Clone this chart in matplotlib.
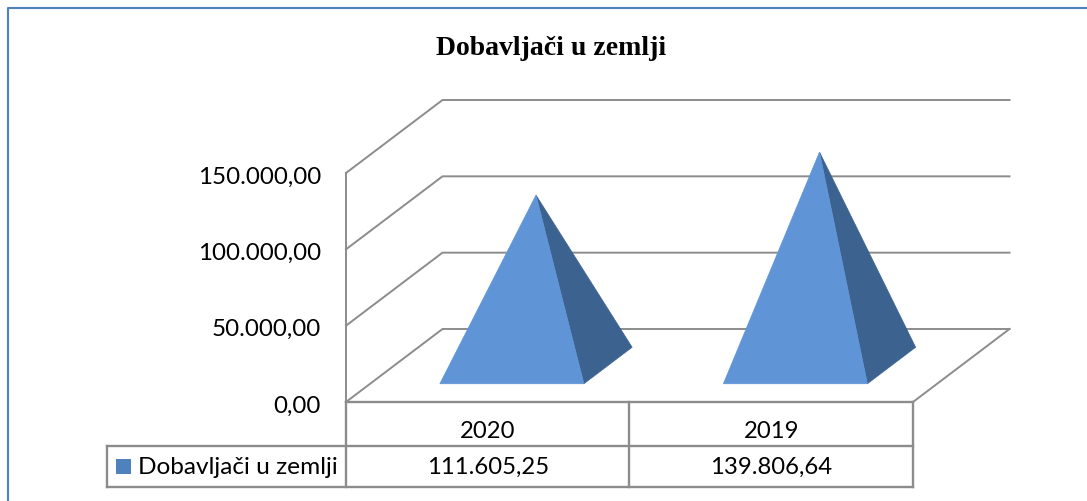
import matplotlib
matplotlib.use("Agg")
import matplotlib.pyplot as plt
from matplotlib.transforms import ScaledTranslation, blended_transform_factory

# data
godine = ["2020", "2019"]
vrijednosti = [111605.25, 139806.64]
vrijednosti_txt = ["111.605,25", "139.806,64"]
y_ticks = [0, 50000, 100000, 150000]
y_labels = ["0,00", "50.000,00", "100.000,00", "150.000,00"]
serija = "Dobavljači u zemlji"
naslov = "Dobavljači u zemlji"

# 3d look: shift of the back wall, in data units
DX = 96.5 / 283.5
DY = 73 / 229 * 150000
POLA = 0.254  # half width of a pyramid base


def proj(x, y, d):
    return x + d * DX, y + d * DY


plt.rcParams["font.family"] = ["Lato", "DejaVu Sans"]
W, H = 1087, 501
fig = plt.figure(figsize=(W / 100, H / 100), dpi=100)

# overlay in pixels for frame and table
ov = fig.add_axes([0, 0, 1, 1])
ov.set_xlim(0, W)
ov.set_ylim(H, 0)
ov.axis("off")

ov.plot([8, 8, W], [H, 8, 8], color="#4f81bd", lw=1.5)
ov.text(551.5, 48, naslov, family="Liberation Serif", weight="bold", fontsize=20,
        ha="center", va="center", color="black")

# chart axes sit on the front plane
ax = fig.add_axes([346 / W, 1 - 402 / H, 567 / W, 229 / H])
ax.set_xlim(0, 2)
ax.set_ylim(0, 150000)
ax.patch.set_visible(False)
for s in ["top", "right", "bottom"]:
    ax.spines[s].set_visible(False)
ax.spines["left"].set_color("#8c8c8c")
ax.spines["left"].set_linewidth(1.4)
ax.set_xticks([])
ax.set_yticks(y_ticks)
ax.set_yticklabels(y_labels, fontsize=17.4, color="black", va="center_baseline")
ax.tick_params(axis="y", length=0, pad=18)
# labels sit a bit lower than the tick position
pomak = ScaledTranslation(0, -2 / 100, fig.dpi_scale_trans)
for lab in ax.get_yticklabels():
    lab.set_transform(lab.get_transform() + pomak)

siva = "#8c8c8c"
for t in y_ticks:
    x1, y1 = proj(0, t, 1)
    x2, y2 = proj(2, t, 1)
    ax.plot([0, x1, x2], [t, y1, y2], color=siva, lw=1.4, clip_on=False,
            solid_joinstyle="miter")

# floor
x1, y1 = proj(2, 0, 1)
ax.plot([0, 2, x1], [0, 0, y1], color=siva, lw=1.4, clip_on=False)

# pyramids
for i, v in enumerate(vrijednosti):
    c = i + 0.5
    vrh = proj(c, v, 0.5)
    pl = proj(c - POLA, 0, 0.25)
    pd = proj(c + POLA, 0, 0.25)
    zd = proj(c + POLA, 0, 0.75)
    ax.fill(*zip(vrh, pd, zd), color="#3c628f", lw=0.5, clip_on=False, zorder=3)
    ax.fill(*zip(vrh, pl, pd), color="#5f94d6", lw=0.5, clip_on=False, zorder=4)

# table under the chart
for y in [446, 487]:
    ov.plot([107, 913], [y, y], color=siva, lw=1.7)
ov.plot([346, 913], [402, 402], color=siva, lw=1.7)
ov.plot([107, 107], [446, 487], color=siva, lw=1.7)
for x in [346, 629, 913]:
    ov.plot([x, x], [402, 487], color=siva, lw=1.7)

tr = blended_transform_factory(ax.transData, ov.transData)
for i in range(len(godine)):
    ax.text(i + 0.5, 431, godine[i], transform=tr, fontsize=17.2, ha="center",
            va="center", color="black", clip_on=False)
    ax.text(i + 0.5, 467, vrijednosti_txt[i], transform=tr, fontsize=17.2, ha="center",
            va="center", color="black", clip_on=False)

ov.fill([116, 131, 131, 116], [459, 459, 474, 474], color="#4f81bd", lw=0)
ov.text(138, 467, serija, fontsize=17.6, ha="left", va="center", color="black")

fig.savefig("out.png", dpi=100)
